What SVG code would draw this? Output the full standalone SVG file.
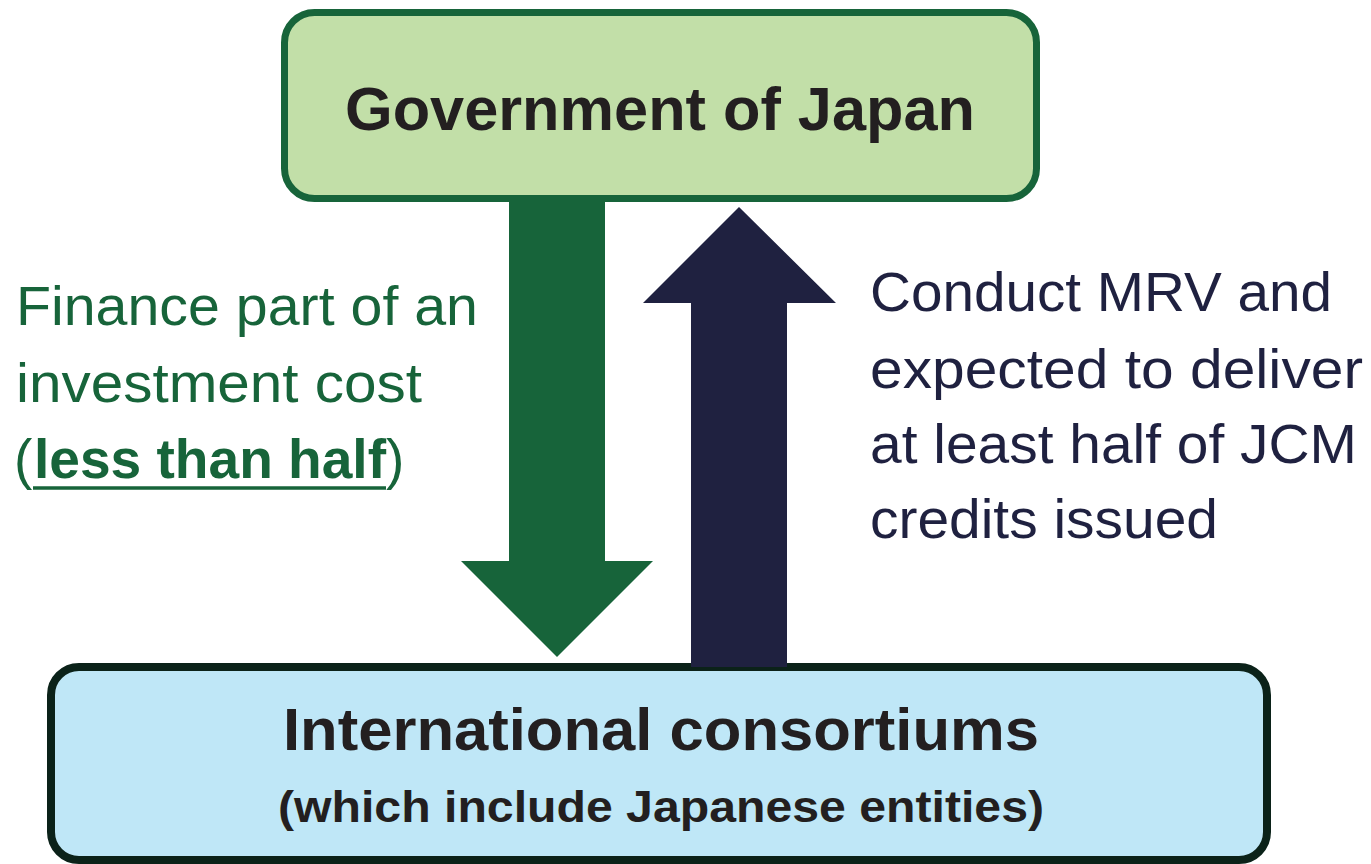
<svg xmlns="http://www.w3.org/2000/svg" width="1371" height="864" viewBox="0 0 1371 864">
<style>
.box-top{fill:#C2DFA8;stroke:#17643A;stroke-width:7}
.box-bot{fill:#BFE7F7;stroke:#0B2219;stroke-width:8}
.title{font-family:"Liberation Sans",Arial,sans-serif;font-weight:bold;fill:#231F20;text-anchor:middle}
.lbl{font-family:"Liberation Sans",Arial,sans-serif;font-size:55px}
.green{fill:#17643A}
.navy{fill:#1F2140}
</style>
<rect width="1371" height="864" fill="#FFFFFF"/>
<g id="node-government">
<rect class="box-top" x="284.5" y="12.5" width="752" height="186" rx="30" ry="30"/>
<text class="title" x="660" y="130" font-size="62" textLength="630" lengthAdjust="spacingAndGlyphs">Government of Japan</text>
</g>
<g id="node-consortiums">
<rect class="box-bot" x="51" y="667" width="1216" height="193" rx="28" ry="28"/>
<text class="title" x="661" y="750" font-size="60" textLength="756" lengthAdjust="spacingAndGlyphs">International consortiums</text>
<text class="title" x="661" y="822" font-size="44" textLength="766" lengthAdjust="spacingAndGlyphs">(which include Japanese entities)</text>
</g>
<g id="connectors">
<polygon class="green" points="509,198 605,198 605,561 653,561 557,657 461,561 509,561"/>
<polygon class="navy" points="739,207 836,303 787,303 787,667 691,667 691,303 643,303"/>
</g>
<g id="label-finance">
<text class="lbl green" x="16" y="325" textLength="462" lengthAdjust="spacingAndGlyphs">Finance part of an</text>
<text class="lbl green" x="16" y="402" textLength="406" lengthAdjust="spacingAndGlyphs">investment cost</text>
<text class="lbl green" x="14" y="478">(</text>
<text class="lbl green" x="34" y="478" font-weight="bold" textLength="352" lengthAdjust="spacingAndGlyphs">less than half</text>
<text class="lbl green" x="386" y="478">)</text>
<line x1="33" y1="488" x2="386" y2="488" stroke="#17643A" stroke-width="3.5"/>
</g>
<g id="label-mrv">
<text class="lbl navy" x="870" y="311" textLength="462" lengthAdjust="spacingAndGlyphs">Conduct MRV and</text>
<text class="lbl navy" x="870" y="388" textLength="493" lengthAdjust="spacingAndGlyphs">expected to deliver</text>
<text class="lbl navy" x="870" y="463" textLength="487" lengthAdjust="spacingAndGlyphs">at least half of JCM</text>
<text class="lbl navy" x="870" y="538" textLength="348" lengthAdjust="spacingAndGlyphs">credits issued</text>
</g>
</svg>
